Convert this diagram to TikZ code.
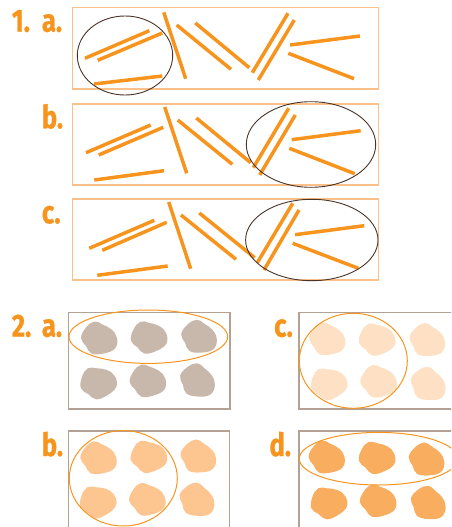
\documentclass[tikz,border=0pt]{standalone}
\usepackage{fontspec}
\newfontfamily\lblfont{Fira Sans}[FakeStretch=0.8, FakeBold=0.8]
\definecolor{stick}{HTML}{F7941D}
\definecolor{boxone}{HTML}{FBC08A}
\definecolor{ringone}{HTML}{4A3428}
\definecolor{boxtwo}{HTML}{B3A294}
\definecolor{blobA}{HTML}{C7B8AB}
\definecolor{blobB}{HTML}{FDC590}
\definecolor{blobC}{HTML}{FEE1C4}
\definecolor{blobD}{HTML}{F9AD5E}
\tikzset{
  lbl/.style={inner sep=0pt, anchor=base west, text=stick, font=\lblfont\bfseries\fontsize{32}{32}\selectfont},
  stickline/.style={draw=stick, line width=3.5pt},
  frameone/.style={draw=boxone, line width=1.3pt},
  ringA/.style={draw=ringone, line width=0.9pt},
  frametwo/.style={draw=boxtwo, line width=1.5pt},
  ringB/.style={draw=stick, line width=1pt},
  blob/.pic={\path[pic actions] plot[smooth cycle, tension=0.7] coordinates
    {(-5,-16.5) (3,-13.5) (12,-8.5) (17.5,0) (15.5,10.5) (4,15.5) (-8,15.5) (-13.5,8) (-18.5,0) (-13.5,-10.5)};}
}
\begin{document}
\begin{tikzpicture}[x=1pt,y=-1pt]
\useasboundingbox (0,0) rectangle (451,527);
\clip (0,0) rectangle (451,527);
% ---------- Part 1 ----------
\node[lbl] (n1) at (11.7,31.7) {1.};
\node[lbl] (n1a) at (41.7,31.7) {a.};
\node[lbl] (n1b) at (41.7,128.3) {b.};
\node[lbl] (n1c) at (41.7,223.3) {c.};
\draw[frameone] (72.7,7.3) rectangle (378.3,89);
\draw[frameone] (72.7,104) rectangle (378.3,185);
\draw[frameone] (72.7,199) rectangle (378.3,280);
% a
\draw[stickline] (85,58.3) -- (149.3,30.7);
\draw[stickline] (97.7,60.3) -- (162.3,33);
\draw[stickline] (94,84) -- (162.3,76);
\draw[stickline] (163.7,12.3) -- (185.7,78.7);
\draw[stickline] (176.7,25) -- (231,69.3);
\draw[stickline] (195.3,23) -- (249.3,67.7);
\draw[stickline] (288,13.3) -- (252.3,72.7);
\draw[stickline] (294.3,20) -- (258.3,80);
\draw[stickline] (290,45) -- (360,36);
\draw[stickline] (288.3,53.3) -- (354,78.7);
\draw[ringA] (125,55.5) ellipse [x radius=47.7, y radius=39.5];
% b
\draw[stickline] (86,152.7) -- (150.7,125);
\draw[stickline] (98.7,155) -- (163.3,127.3);
\draw[stickline] (94.3,180) -- (164,170.7);
\draw[stickline] (164.7,107) -- (186.7,173.3);
\draw[stickline] (177.7,120) -- (232.3,164.3);
\draw[stickline] (196.3,118) -- (250.7,162.7);
\draw[stickline] (288.7,108.3) -- (253.3,167.7);
\draw[stickline] (295.3,115) -- (259.7,175);
\draw[stickline] (291.7,139.7) -- (360.7,130.7);
\draw[stickline] (289.3,148.3) -- (354.7,173.7);
\draw[ringA] (311,144.5) ellipse [x radius=64.7, y radius=42.8];
% c
\draw[stickline] (89.3,248.3) -- (154.3,220.3);
\draw[stickline] (102.3,250.3) -- (166.7,222.3);
\draw[stickline] (97.3,275.3) -- (167.7,266);
\draw[stickline] (168.7,202) -- (190.7,268.7);
\draw[stickline] (181,215) -- (236,259.3);
\draw[stickline] (199.3,213) -- (254.7,257.7);
\draw[stickline] (292.7,203.3) -- (257.3,262.7);
\draw[stickline] (299,210) -- (264,270);
\draw[stickline] (295,234.7) -- (364.3,225.7);
\draw[stickline] (292.7,243.3) -- (358.3,268.3);
\draw[ringA] (311.8,240) ellipse [x radius=66.2, y radius=40.7];
% ---------- Part 2 ----------
\node[lbl] (n2) at (11.7,336.7) {2.};
\node[lbl] (n2a) at (41.7,336.7) {a.};
\node[lbl] (n2c) at (274,336.7) {c.};
\node[lbl] (n2b) at (41.7,456) {b.};
\node[lbl] (n2d) at (269.3,456) {d.};
\draw[frametwo] (68.3,312.7) rectangle (230,409);
\draw[frametwo] (299,312.7) rectangle (462,409);
\draw[frametwo] (68.3,431) rectangle (229.3,540);
\draw[frametwo] (299,431) rectangle (462,540);
% 2a blobs
\pic[fill=blobA, rotate=0] (a1) at (99.5,338) {blob};
\pic[fill=blobA, rotate=12] (a2) at (149,336.7) {blob};
\pic[fill=blobA, rotate=-8] (a3) at (199.5,336.7) {blob};
\pic[fill=blobA, rotate=20] (a4) at (98.3,382) {blob};
\pic[fill=blobA, rotate=5] (a5) at (148,380.5) {blob};
\pic[fill=blobA, rotate=-15] (a6) at (198,380.5) {blob};
\draw[ringB] (148.3,336.7) ellipse [x radius=79.3, y radius=26.7];
% 2c blobs
\pic[fill=blobC, rotate=0] (c1) at (327.5,338.8) {blob};
\pic[fill=blobC, rotate=12] (c2) at (377,338.8) {blob};
\pic[fill=blobC, rotate=-8] (c3) at (427.8,340) {blob};
\pic[fill=blobC, rotate=20] (c4) at (328.8,383) {blob};
\pic[fill=blobC, rotate=5] (c5) at (378.8,381) {blob};
\pic[fill=blobC, rotate=-15] (c6) at (428.7,384) {blob};
\draw[ringB] (353.3,360.8) ellipse [x radius=54, y radius=47.5];
% 2b blobs
\pic[fill=blobB, rotate=0] (b1) at (98.8,457.8) {blob};
\pic[fill=blobB, rotate=12] (b2) at (148.8,456) {blob};
\pic[fill=blobB, rotate=-8] (b3) at (198.8,456.5) {blob};
\pic[fill=blobB, rotate=20] (b4) at (97.8,501) {blob};
\pic[fill=blobB, rotate=5] (b5) at (147.5,499) {blob};
\pic[fill=blobB, rotate=-15] (b6) at (197.5,499.8) {blob};
\draw[ringB] (123.3,478.3) ellipse [x radius=54, y radius=47.7];
% 2d blobs
\pic[fill=blobD, rotate=0] (d1) at (327,457) {blob};
\pic[fill=blobD, rotate=12] (d2) at (377,457) {blob};
\pic[fill=blobD, rotate=-8] (d3) at (427,459.5) {blob};
\pic[fill=blobD, rotate=20] (d4) at (328.7,502) {blob};
\pic[fill=blobD, rotate=5] (d5) at (378.3,500.5) {blob};
\pic[fill=blobD, rotate=-15] (d6) at (428.8,503) {blob};
\draw[ringB] (378.6,458.7) ellipse [x radius=79.3, y radius=26.3];
\end{tikzpicture}
\end{document}
